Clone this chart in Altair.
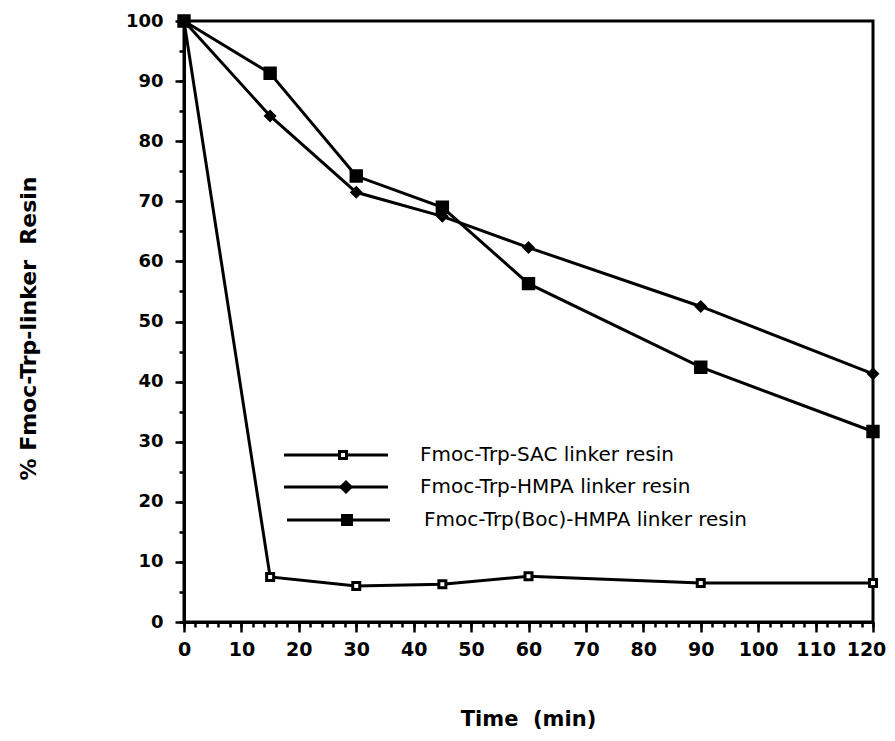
import altair as alt
import pandas as pd

# ---- data ----
times = [0, 15, 30, 45, 60, 90, 120]
series_names = [
    "Fmoc-Trp-SAC linker resin",
    "Fmoc-Trp-HMPA linker resin",
    "Fmoc-Trp(Boc)-HMPA linker resin",
]
sac_values = [100, 7.5, 6.0, 6.3, 7.6, 6.5, 6.5]
hmpa_values = [100, 84.2, 71.5, 67.5, 62.3, 52.5, 41.3]
boc_values = [100, 91.3, 74.2, 69.0, 56.3, 42.4, 31.7]
x_major_ticks = list(range(0, 121, 10))
x_minor_ticks = list(range(0, 121, 2))
y_major_ticks = list(range(0, 101, 10))
y_minor_ticks = list(range(0, 101, 5))

rows = []
for name, vals in zip(series_names, [sac_values, hmpa_values, boc_values]):
    for t, v in zip(times, vals):
        rows.append({"time": t, "value": v, "series": name})
df = pd.DataFrame(rows)

# ---- styles ----
FONT = "DejaVu Sans"
shapes = ["square", "diamond", "square"]
fills = ["white", "black", "black"]
sizes = [49, 130, 100]
stroke_widths = [3, 2, 2]

W, H = 689, 601

x_scale = alt.Scale(domain=[0, 120], nice=False, zero=False)
y_scale = alt.Scale(domain=[0, 100], nice=False, zero=False)

x_major = alt.X(
    "time:Q", scale=x_scale,
    axis=alt.Axis(values=x_major_ticks, orient="bottom", title="Time\u00a0 (min)",
                  tickSize=10, labelPadding=8, labelFontSize=19, labelFlush=False,
                  labelOverlap=False,
                  labelOffset={"condition": {"test": "datum.value == 120", "value": -7}, "value": 0},
                  titleFontSize=21, titleX=344, titleY=97,
                  titleAlign="center", titleBaseline="middle"),
)
y_major = alt.Y(
    "value:Q", scale=y_scale,
    axis=alt.Axis(values=y_major_ticks, orient="left", title="% Fmoc-Trp-linker\u00a0 Resin",
                  tickSize=9, labelPadding=12, labelFontSize=18, labelFlush=False,
                  labelOverlap=False, titleFontSize=22, titleX=-156, titleY=307,
                  titleAngle=270, titleAlign="center", titleBaseline="middle"),
)
x_minor = alt.X(
    "time:Q", scale=x_scale,
    axis=alt.Axis(values=x_minor_ticks, orient="bottom", title="", labels=False,
                  domain=False, tickSize=5),
)
y_minor = alt.Y(
    "value:Q", scale=y_scale,
    axis=alt.Axis(values=y_minor_ticks, orient="left", title="", labels=False,
                  domain=False, tickSize=5),
)

lines = alt.Chart(df).mark_line(color="black", strokeWidth=3).encode(
    x=x_major, y=y_major, detail="series:N"
)

points = alt.Chart(df).mark_point(filled=True, stroke="black", opacity=1).encode(
    x=x_minor, y=y_minor,
    shape=alt.Shape("series:N", scale=alt.Scale(domain=series_names, range=shapes), legend=None),
    fill=alt.Fill("series:N", scale=alt.Scale(domain=series_names, range=fills), legend=None),
    size=alt.Size("series:N", scale=alt.Scale(domain=series_names, range=sizes), legend=None),
    strokeWidth=alt.StrokeWidth("series:N", scale=alt.Scale(domain=series_names, range=stroke_widths),
                                legend=None),
)

# ---- hand-made legend (positions in plot pixels) ----
legend_y = [434, 466, 499]
legend_line_x = [(100, 204), (100, 204), (103, 206)]
legend_marker_x = [159, 162, 163]
legend_text_x = [236, 236, 240]

legend_layers = []
for i, name in enumerate(series_names):
    d = alt.Data(values=[{"name": name}])
    x1, x2 = legend_line_x[i]
    legend_layers.append(
        alt.Chart(d).mark_rule(color="black", strokeWidth=3).encode(
            x=alt.value(x1), x2=alt.value(x2), y=alt.value(legend_y[i])
        )
    )
    legend_layers.append(
        alt.Chart(d).mark_point(shape=shapes[i], filled=True, fill=fills[i], stroke="black",
                                strokeWidth=stroke_widths[i], size=sizes[i], opacity=1).encode(
            x=alt.value(legend_marker_x[i]), y=alt.value(legend_y[i])
        )
    )
    legend_layers.append(
        alt.Chart(d).mark_text(align="left", baseline="middle", font=FONT, fontSize=20,
                               color="black").encode(
            x=alt.value(legend_text_x[i]), y=alt.value(legend_y[i]), text="name:N"
        )
    )

chart = (
    alt.layer(lines, points, *legend_layers)
    .resolve_axis(x="independent", y="independent")
    .properties(
        width=W, height=H,
        autosize=alt.AutoSizeParams(type="none"),
        padding={"left": 176, "top": 13, "right": 14, "bottom": 110},
        background="white",
    )
    .configure_view(stroke="black", strokeWidth=3)
    .configure_axis(
        grid=False, domainColor="black", domainWidth=3, tickColor="black", tickWidth=2.5,
        labelColor="black", titleColor="black", labelFont=FONT, titleFont=FONT,
        labelFontWeight="bold", titleFontWeight="bold",
    )
)

chart.save("out.html", embed_options={"renderer": "svg", "actions": False})
